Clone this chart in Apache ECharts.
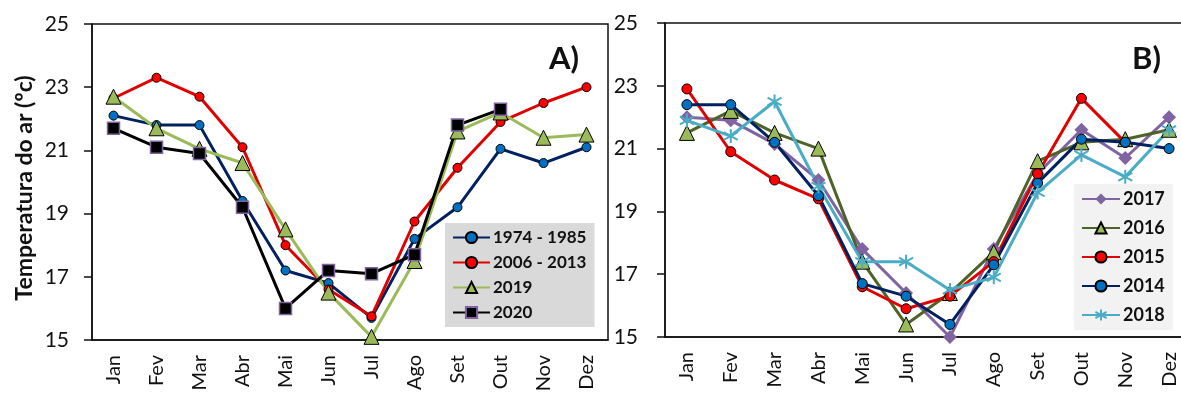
<!DOCTYPE html>
<html>
<head>
<meta charset="utf-8">
<script src="https://cdn.jsdelivr.net/npm/echarts@6/dist/echarts.min.js"></script>
<style>
  html, body { margin: 0; padding: 0; background: #fff; }
  #chart { width: 1181px; height: 394px; }
</style>
</head>
<body>
<div id="chart"></div>
<script>
// months on the x axis
var months = ['Jan', 'Fev', 'Mar', 'Abr', 'Mai', 'Jun', 'Jul', 'Ago', 'Set', 'Out', 'Nov', 'Dez'];

// panel A
var s1974 = [22.1, 21.8, 21.8, 19.4, 17.2, 16.8, 15.7, 18.2, 19.2, 21.05, 20.6, 21.1];
var s2006 = [22.65, 23.3, 22.7, 21.1, 18.0, 16.6, 15.75, 18.75, 20.45, 21.9, 22.5, 23.0];
var s2019 = [22.7, 21.7, 21.05, 20.6, 18.5, 16.5, 15.1, 17.5, 21.6, 22.2, 21.4, 21.5];
var s2020 = [21.7, 21.1, 20.9, 19.2, 16.0, 17.2, 17.1, 17.7, 21.8, 22.3, null, null];

// panel B
var s2017 = [22.0, 21.9, 21.15, 20.0, 17.8, 16.4, 15.0, 17.8, 20.2, 21.6, 20.7, 22.0];
var s2016 = [21.5, 22.2, 21.5, 21.0, 17.4, 15.4, 16.4, 17.7, 20.6, 21.2, 21.3, 21.6];
var s2015 = [22.9, 20.9, 20.0, 19.4, 16.6, 15.9, 16.3, 17.4, 20.2, 22.6, 21.2, null];
var s2014 = [22.4, 22.4, 21.2, 19.5, 16.7, 16.3, 15.4, 17.3, 19.9, 21.3, 21.2, 21.0];
var s2018 = [21.9, 21.4, 22.5, 19.8, 17.4, 17.4, 16.5, 16.9, 19.6, 20.8, 20.1, 21.6];

var yMin = 15, yMax = 25, yStep = 2;

var FONT = 'Lato, "Open Sans", sans-serif';
var INK = '#111';
var asterisk = 'path://M5,0 L5,10 M0.8,2.2 L9.2,7.8 M9.2,2.2 L0.8,7.8';

function xAxisFor(i) {
    return {
        type: 'category', gridIndex: i, data: months,
        axisLine: { lineStyle: { color: INK, width: 1.5 } },
        axisTick: { length: 7, lineStyle: { color: INK, width: 1.5 } },
        axisLabel: { rotate: 90, margin: 15, fontSize: 20, color: INK, fontFamily: FONT }
    };
}
function yAxisFor(i, m) {
    return {
        type: 'value', gridIndex: i, min: yMin, max: yMax, interval: yStep,
        splitLine: { show: false },
        axisLine: { show: true, lineStyle: { color: INK, width: 1.5 } },
        axisTick: { show: true, length: 8, lineStyle: { color: INK, width: 1.5 } },
        axisLabel: { margin: m, fontSize: 21, color: INK, fontFamily: FONT }
    };
}
function line(name, data, idx, lineColor, symbol, size, fill, border, bw) {
    return {
        name: name, type: 'line', data: data,
        xAxisIndex: idx, yAxisIndex: idx,
        symbol: symbol, symbolSize: size, showAllSymbol: true,
        lineStyle: { color: lineColor, width: 3 },
        itemStyle: { color: fill, borderColor: border, borderWidth: bw },
        z: 3
    };
}

var leftY = yAxisFor(0, 23);
leftY.name = 'Temperatura do ar (ºc)';
leftY.nameLocation = 'middle';
leftY.nameGap = 56;
leftY.nameTextStyle = { fontSize: 23, fontWeight: 'bold', color: INK, fontFamily: FONT, padding: [0, 12, 0, 0] };

var option = {
    animation: false,
    backgroundColor: '#fff',
    textStyle: { fontFamily: FONT },
    title: [
        { text: 'A)', left: 544, top: 38, textStyle: { fontSize: 31, fontWeight: 'bold', color: INK, fontFamily: FONT } },
        { text: 'B)', left: 1127, top: 38, textStyle: { fontSize: 31, fontWeight: 'bold', color: INK, fontFamily: FONT } }
    ],
    grid: [
        { left: 92, top: 24, width: 516, height: 316, show: true, borderColor: INK, borderWidth: 1.5, outerBoundsMode: 'none', containLabel: false },
        { left: 665, top: 23, width: 526, height: 314, show: true, borderColor: INK, borderWidth: 1.5, outerBoundsMode: 'none', containLabel: false }
    ],
    xAxis: [xAxisFor(0), xAxisFor(1)],
    yAxis: [leftY, yAxisFor(1, 27)],
    legend: [
        {
            data: ['1974 - 1985', '2006 - 2013', '2019', '2020'],
            orient: 'vertical', left: 445, top: 223,
            backgroundColor: '#d9d9d9', padding: [6, 8, 6, 7],
            itemWidth: 37, itemHeight: 14, itemGap: 8,
            textStyle: { fontSize: 17, fontWeight: 'bold', color: INK, fontFamily: FONT, padding: [0, 0, 0, -2] }
        },
        {
            data: ['2017', '2016', '2015', '2014', '2018'],
            orient: 'vertical', left: 1074, top: 184,
            backgroundColor: '#f2f2f2', padding: [6, 8, 6, 7],
            itemWidth: 38, itemHeight: 14, itemGap: 11,
            textStyle: { fontSize: 18, fontWeight: 'bold', color: INK, fontFamily: FONT, padding: [0, 0, 0, -2] }
        }
    ],
    series: [
        line('1974 - 1985', s1974, 0, '#002060', 'circle', 9, '#0070C0', '#000', 1),
        line('2006 - 2013', s2006, 0, '#E00000', 'circle', 9, '#FF0000', '#000', 1),
        line('2019', s2019, 0, '#9BBB59', 'triangle', 15, '#9BBB59', '#000', 1),
        line('2020', s2020, 0, '#000000', 'rect', 12, '#000000', '#8064A2', 1.5),

        line('2017', s2017, 1, '#8064A2', 'diamond', 14, '#8064A2', '#8064A2', 0),
        line('2016', s2016, 1, '#4F6228', 'triangle', 15, '#9BBB59', '#000', 1),
        line('2015', s2015, 1, '#E00000', 'circle', 10, '#FF0000', '#000', 1),
        line('2014', s2014, 1, '#002060', 'circle', 10, '#0070C0', '#000', 1),
        line('2018', s2018, 1, '#4BACC6', asterisk, 14, 'rgba(0,0,0,0)', '#4BACC6', 2)
    ]
};

var myChart = echarts.init(document.getElementById('chart'));
myChart.setOption(option);
</script>
</body>
</html>
